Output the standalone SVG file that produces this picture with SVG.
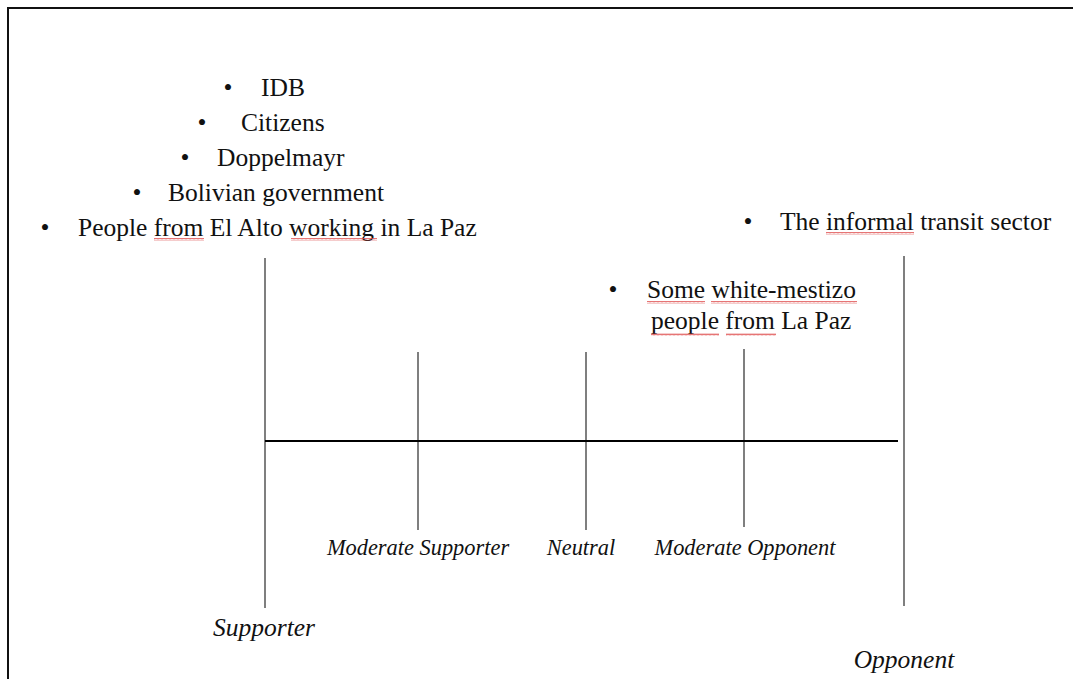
<svg xmlns="http://www.w3.org/2000/svg" width="1073" height="679" viewBox="0 0 1073 679">
<style>
.t{font-family:"Liberation Serif","Times New Roman",serif;font-size:25.5px;fill:#111}
.i{font-family:"Liberation Serif","Times New Roman",serif;font-style:italic;font-size:22.4px;fill:#111}
.big{font-size:25.5px}
.v{stroke:#7f7f7f;stroke-width:2;fill:none}
.h{stroke:#000;stroke-width:2.2;fill:none}
</style>
<defs>
<pattern id="wave" width="4" height="3" patternUnits="userSpaceOnUse">
<path d="M0,2.4 L1,0.6 L2,2.4 L3,0.6 L4,2.4" stroke="#e05050" stroke-width="0.8" fill="none"/>
</pattern>
</defs>
<rect width="1073" height="679" fill="#fff"/>
<path d="M8,1073 M8,679 L8,8 L1073,8" stroke="#111" stroke-width="2" fill="none"/>

<g id="supporters">
<text class="t" x="228" y="96" text-anchor="middle">•</text><text class="t" x="261" y="96">IDB</text>
<text class="t" x="202" y="131" text-anchor="middle">•</text><text class="t" x="241" y="131">Citizens</text>
<text class="t" x="185" y="166" text-anchor="middle">•</text><text class="t" x="217" y="166">Doppelmayr</text>
<text class="t" x="137" y="201" text-anchor="middle">•</text><text class="t" x="168" y="201">Bolivian government</text>
<text class="t" x="45" y="236" text-anchor="middle">•</text><text class="t" x="78" y="236">People from El Alto working in La Paz</text>
<rect x="154" y="238" width="50" height="3" fill="url(#wave)"/>
<rect x="291" y="238" width="86" height="3" fill="url(#wave)"/>
</g>

<g id="opponent-group">
<text class="t" x="748" y="230" text-anchor="middle">•</text><text class="t" x="780" y="230">The informal transit sector</text>
<rect x="826" y="232" width="88" height="3" fill="url(#wave)"/>
</g>

<g id="moderate-opponent-group">
<text class="t" x="613" y="298" text-anchor="middle">•</text>
<text class="t" x="647" y="298">Some white-mestizo</text>
<text class="t" x="651" y="329">people from La Paz</text>
<rect x="647" y="301" width="58" height="3" fill="url(#wave)"/>
<rect x="711" y="301" width="146" height="3" fill="url(#wave)"/>
<rect x="651" y="333" width="68" height="3" fill="url(#wave)"/>
<rect x="726" y="333" width="50" height="3" fill="url(#wave)"/>
</g>

<g id="connectors">
<line class="v" x1="265" y1="258" x2="265" y2="608"/>
<line class="v" x1="904" y1="256" x2="904" y2="606"/>
<line class="v" x1="418" y1="352" x2="418" y2="530"/>
<line class="v" x1="586" y1="352" x2="586" y2="530"/>
<line class="v" x1="744" y1="349" x2="744" y2="527"/>
<line class="h" x1="265" y1="441" x2="898" y2="441"/>
</g>

<g id="labels">
<text class="i" x="418" y="555" text-anchor="middle">Moderate Supporter</text>
<text class="i" x="581" y="555" text-anchor="middle">Neutral</text>
<text class="i" x="745" y="555" text-anchor="middle">Moderate Opponent</text>
<text class="i big" x="264" y="636" text-anchor="middle">Supporter</text>
<text class="i big" x="904" y="668" text-anchor="middle">Opponent</text>
</g>
</svg>
